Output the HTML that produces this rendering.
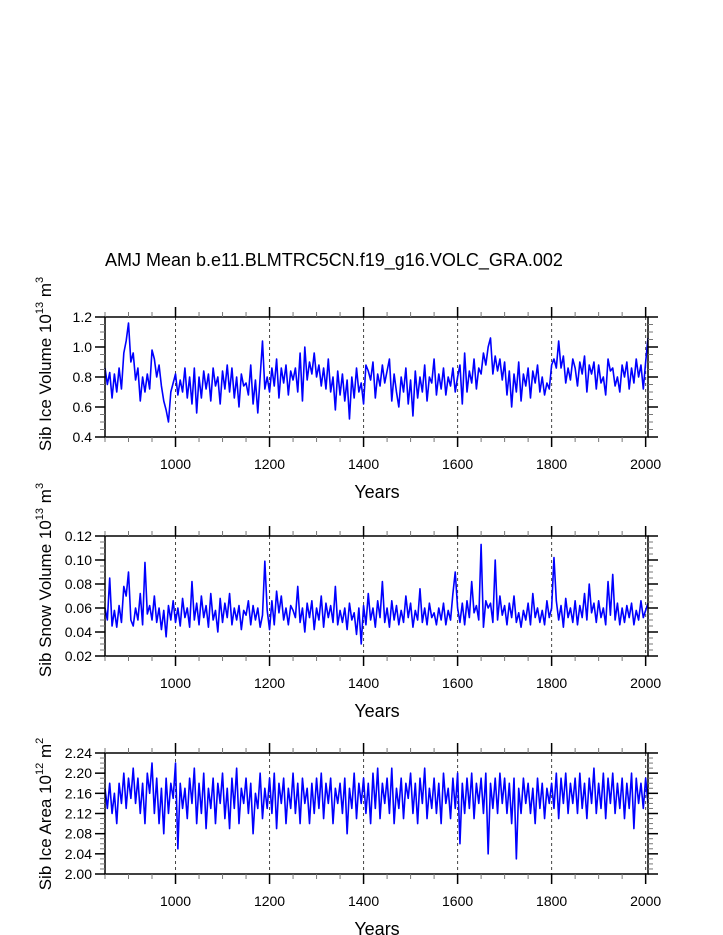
<!DOCTYPE html>
<html><head><meta charset="utf-8"><style>
html,body{margin:0;padding:0;background:#fff;}
svg{display:block;font-family:"Liberation Sans",Arial,sans-serif;}
</style></head><body>
<svg id="chart" width="723" height="935" viewBox="0 0 723 935" xmlns="http://www.w3.org/2000/svg">
<text x="105" y="266" font-size="18">AMJ Mean b.e11.BLMTRC5CN.f19_g16.VOLC_GRA.002</text>
</svg>
<script>
const startYear = 850;
const stepYears = 5;
const iceVolume = [
0.86,0.75,0.83,0.66,0.82,0.70,0.86,0.72,0.96,1.04,
1.16,0.90,0.96,0.78,0.86,0.64,0.80,0.70,0.82,0.72,
0.98,0.92,0.80,0.88,0.74,0.64,0.58,0.50,0.70,0.76,
0.82,0.68,0.78,0.70,0.86,0.66,0.80,0.62,0.86,0.56,
0.80,0.66,0.84,0.72,0.82,0.64,0.86,0.74,0.80,0.62,
0.84,0.72,0.88,0.70,0.86,0.66,0.80,0.60,0.82,0.74,
0.76,0.68,0.88,0.62,0.78,0.56,0.80,1.04,0.72,0.80,
0.70,0.86,0.74,0.92,0.66,0.86,0.76,0.88,0.68,0.84,
0.78,0.86,0.70,0.96,0.64,1.00,0.78,0.90,0.82,0.96,
0.80,0.88,0.74,0.86,0.72,0.92,0.70,0.80,0.58,0.84,
0.68,0.82,0.64,0.78,0.52,0.80,0.66,0.86,0.70,0.76,
0.62,0.88,0.84,0.78,0.90,0.66,0.82,0.74,0.88,0.76,
0.84,0.92,0.64,0.82,0.70,0.60,0.80,0.70,0.86,0.62,
0.78,0.54,0.84,0.66,0.80,0.70,0.88,0.64,0.80,0.76,
0.92,0.68,0.82,0.72,0.86,0.68,0.80,0.74,0.86,0.70,
0.80,0.88,0.62,0.96,0.70,0.84,0.76,0.92,0.72,0.86,
0.82,0.96,0.88,1.00,1.06,0.82,0.94,0.84,0.92,0.78,
0.90,0.68,0.84,0.60,0.82,0.70,0.90,0.64,0.82,0.74,
0.86,0.66,0.84,0.76,0.88,0.70,0.80,0.68,0.76,0.72,
0.88,0.92,0.86,1.04,0.86,0.94,0.76,0.86,0.78,0.92,
0.86,0.74,0.90,0.82,0.94,0.70,0.88,0.82,0.90,0.72,
0.88,0.76,0.80,0.68,0.92,0.84,0.86,0.74,0.80,0.70,
0.88,0.80,0.90,0.72,0.86,0.76,0.92,0.80,0.88,0.72,
0.90,1.06];
const snowVolume = [
.060,.050,.085,.045,.058,.044,.062,.048,.078,.070,
.090,.050,.045,.060,.050,.072,.046,.098,.055,.062,
.050,.070,.048,.060,.042,.058,.036,.062,.050,.066,
.048,.060,.045,.068,.052,.060,.044,.082,.050,.064,
.046,.070,.052,.062,.044,.072,.050,.058,.040,.068,
.048,.064,.052,.072,.046,.060,.050,.062,.042,.058,
.054,.066,.046,.062,.050,.060,.044,.054,.099,.058,
.042,.066,.046,.074,.056,.070,.050,.060,.046,.062,
.058,.052,.078,.048,.060,.040,.064,.052,.066,.042,
.060,.050,.070,.044,.064,.052,.062,.048,.078,.046,
.058,.048,.060,.042,.064,.050,.056,.038,.060,.030,
.062,.046,.072,.050,.060,.044,.066,.052,.082,.048,
.060,.044,.066,.050,.062,.046,.058,.048,.070,.052,
.064,.044,.058,.050,.076,.048,.060,.046,.064,.052,
.056,.046,.060,.050,.064,.046,.058,.050,.072,.090,
.060,.048,.064,.046,.066,.052,.082,.056,.062,.050,
.113,.044,.066,.060,.064,.048,.100,.050,.070,.054,
.062,.046,.064,.052,.070,.048,.056,.044,.058,.050,
.064,.046,.072,.052,.060,.048,.058,.046,.066,.052,
.060,.102,.066,.050,.062,.044,.068,.052,.060,.048,
.066,.046,.062,.052,.072,.050,.080,.056,.064,.048,
.066,.052,.060,.046,.082,.054,.088,.050,.064,.046,
.060,.048,.062,.052,.064,.046,.058,.050,.066,.052,
.058,.064];
const iceArea = [
2.17,2.13,2.18,2.12,2.16,2.10,2.18,2.14,2.20,2.13,
2.19,2.15,2.21,2.14,2.19,2.12,2.18,2.10,2.20,2.16,
2.22,2.12,2.19,2.10,2.17,2.08,2.19,2.12,2.18,2.15,
2.22,2.05,2.18,2.13,2.17,2.11,2.19,2.14,2.21,2.10,
2.18,2.12,2.20,2.09,2.17,2.13,2.19,2.10,2.18,2.14,
2.20,2.11,2.17,2.09,2.19,2.13,2.21,2.10,2.17,2.14,
2.19,2.12,2.18,2.08,2.16,2.13,2.20,2.11,2.17,2.13,
2.19,2.12,2.20,2.09,2.18,2.14,2.19,2.10,2.17,2.13,
2.20,2.12,2.18,2.10,2.19,2.14,2.17,2.10,2.18,2.12,
2.19,2.13,2.20,2.11,2.18,2.14,2.19,2.10,2.17,2.14,
2.18,2.12,2.19,2.08,2.17,2.13,2.20,2.11,2.18,2.14,
2.19,2.12,2.18,2.10,2.20,2.13,2.21,2.11,2.18,2.14,
2.19,2.12,2.21,2.10,2.17,2.13,2.19,2.11,2.18,2.15,
2.20,2.12,2.18,2.10,2.19,2.14,2.21,2.11,2.17,2.13,
2.19,2.12,2.18,2.10,2.20,2.14,2.17,2.11,2.19,2.13,
2.20,2.06,2.18,2.12,2.19,2.13,2.20,2.11,2.18,2.14,
2.19,2.12,2.20,2.04,2.18,2.13,2.19,2.12,2.20,2.14,
2.19,2.12,2.18,2.10,2.19,2.03,2.17,2.12,2.19,2.14,
2.18,2.12,2.17,2.10,2.19,2.13,2.18,2.11,2.17,2.14,
2.18,2.13,2.20,2.11,2.19,2.14,2.20,2.12,2.18,2.14,
2.19,2.12,2.20,2.13,2.18,2.11,2.19,2.14,2.21,2.12,
2.18,2.13,2.20,2.11,2.19,2.14,2.20,2.12,2.18,2.13,
2.19,2.11,2.18,2.13,2.20,2.09,2.19,2.14,2.18,2.13,
2.19,2.14];
const xTickLabels = [1000,1200,1400,1600,1800,2000];
const iceVolTicks = [0.4,0.6,0.8,1.0,1.2];
const snowVolTicks = [0.02,0.04,0.06,0.08,0.10,0.12];
const iceAreaTicks = [2.00,2.04,2.08,2.12,2.16,2.20,2.24];

const NS = "http://www.w3.org/2000/svg";
const svg = document.getElementById('chart');
const X0 = 105, X1 = 648, YMIN = 850, YMAX = 2005;
function xs(yr){ return X0 + (yr - YMIN) / (YMAX - YMIN) * (X1 - X0); }
function mk(tag, attrs, parent){
  const e = document.createElementNS(NS, tag);
  for (const k in attrs) e.setAttribute(k, attrs[k]);
  (parent || svg).appendChild(e);
  return e;
}

function panel(cfg){
  const g = mk('g', {});
  
  
  const top = cfg.top, bot = cfg.bot;
  const ys = v => bot - (v - cfg.min) / (cfg.max - cfg.min) * (bot - top);
  xTickLabels.forEach(t => {
    const l = mk('line', {x1: xs(t), x2: xs(t), y1: top, y2: bot, stroke: '#444', 'stroke-width': 1, 'stroke-dasharray': '3,3'}, g);
    
    
  });
  let d = '';
  cfg.data.forEach((v, i) => { d += (i ? 'L' : 'M') + xs(startYear + i * stepYears).toFixed(2) + ',' + ys(v).toFixed(2); });
  const p = mk('path', {d: d, fill: 'none', stroke: '#0000ff', 'stroke-width': 1.6, 'stroke-linejoin': 'round'}, g);
  
  
  const fr = mk('rect', {x: X0, y: top, width: X1 - X0, height: bot - top, fill: 'none', stroke: '#000', 'stroke-width': 1.5}, g);
  
  
  for (let yr = 850; yr <= 2000; yr += 50) {
    const major = yr % 200 === 0;
    const L = major ? 10 : 5;
    const col = major ? '#000' : '#777';
    mk('line', {x1: xs(yr), x2: xs(yr), y1: bot, y2: bot + L, stroke: col, 'stroke-width': major ? 1.5 : 1}, g);
    mk('line', {x1: xs(yr), x2: xs(yr), y1: top, y2: top - L, stroke: col, 'stroke-width': major ? 1.5 : 1}, g);
  }
  xTickLabels.forEach(t => {
    const tx = mk('text', {x: xs(t), y: bot + 32, 'font-size': 14, 'text-anchor': 'middle'}, g);
    tx.textContent = t;
    
    
  });
  const xt = mk('text', {x: 377, y: bot + 61, 'font-size': 18, 'text-anchor': 'middle'}, g);
  xt.textContent = 'Years';
  
  
  const n = Math.round((cfg.max - cfg.min) / cfg.minor);
  for (let i = 0; i <= n; i++) {
    const v = cfg.min + i * cfg.minor;
    const major = i % cfg.ratio === 0;
    const L = major ? 10 : 5;
    const col = major ? '#000' : '#777';
    mk('line', {x1: X0, x2: X0 - L, y1: ys(v), y2: ys(v), stroke: col, 'stroke-width': major ? 1.5 : 1}, g);
    mk('line', {x1: X1, x2: X1 + L, y1: ys(v), y2: ys(v), stroke: col, 'stroke-width': major ? 1.5 : 1}, g);
  }
  cfg.ticks.forEach(t => {
    const tx = mk('text', {x: 92, y: ys(t) + 5, 'font-size': 14, 'text-anchor': 'end'}, g);
    tx.textContent = t.toFixed(cfg.dec);
    
    
  });
  const yt = mk('text', {x: 0, y: 0, 'font-size': 17, 'text-anchor': 'middle', transform: 'translate(51,' + cfg.titleY + ') rotate(-90)'}, g);
  
  
  const a = mk('tspan', {}, yt); a.textContent = cfg.label + ' 10';
  const s1 = mk('tspan', {'font-size': 11, dy: -8}, yt); s1.textContent = cfg.exp;
  const b = mk('tspan', {dy: 8}, yt); b.textContent = ' m';
  const s2 = mk('tspan', {'font-size': 11, dy: -8}, yt); s2.textContent = cfg.unitExp;
}

panel({name: 'ice-volume-panel', top: 317, bot: 437, min: 0.4, max: 1.2, minor: 0.05, ratio: 4, ticks: iceVolTicks, dec: 1, data: iceVolume, label: 'Sib Ice Volume', exp: '13', unitExp: '3', titleY: 364});
panel({name: 'snow-volume-panel', top: 536, bot: 656, min: 0.02, max: 0.12, minor: 0.005, ratio: 4, ticks: snowVolTicks, dec: 2, data: snowVolume, label: 'Sib Snow Volume', exp: '13', unitExp: '3', titleY: 580});
panel({name: 'ice-area-panel', top: 753, bot: 874, min: 2.00, max: 2.24, minor: 0.01, ratio: 4, ticks: iceAreaTicks, dec: 2, data: iceArea, label: 'Sib Ice Area', exp: '12', unitExp: '2', titleY: 814});
</script>
</body></html>
